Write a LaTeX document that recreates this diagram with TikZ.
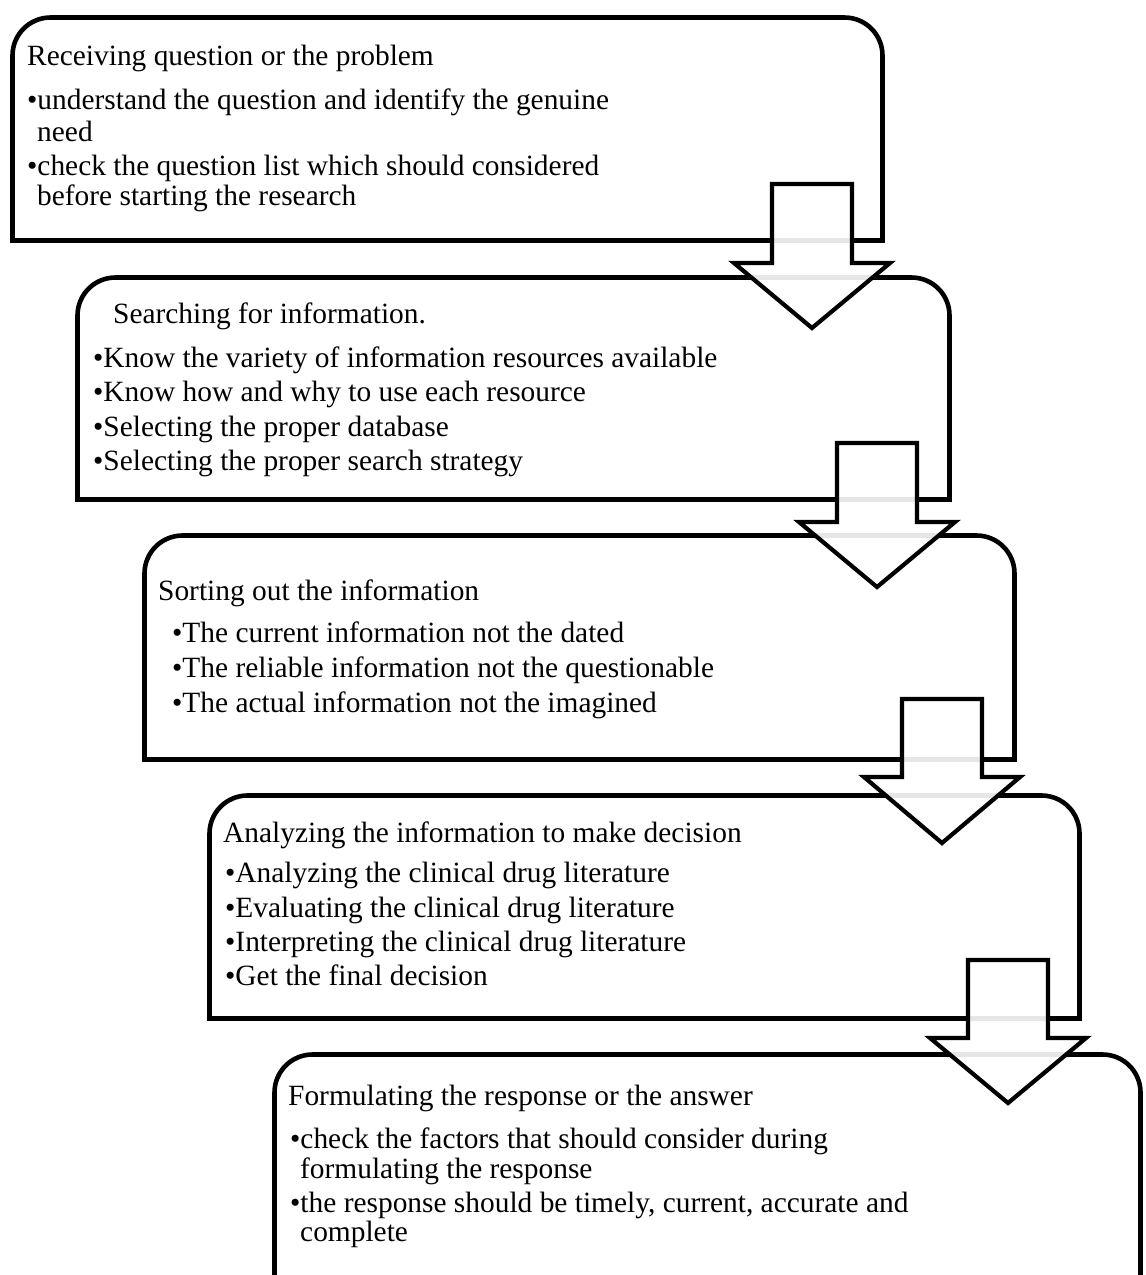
\documentclass[tikz,border=0pt]{standalone}
\usepackage{fontspec}
\setmainfont{Liberation Serif}
\begin{document}
\begin{tikzpicture}[x=1pt,y=1pt,
  boxline/.style={line width=4.6pt, black, line join=miter},
  blockarrow/.style={line width=4.2pt, black, fill=white, fill opacity=0.9, line join=miter},
  txt/.style={anchor=base west, inner sep=0pt, font=\fontsize{29.4}{34}\selectfont}]
\useasboundingbox (0,0) rectangle (1146,-1275);
% boxes with rounded top corners
\newcommand{\topround}[4]{%
  \draw[boxline] (#1,-#4) -- (#1,-#2-38) arc[start angle=180,end angle=90,radius=38pt]
    -- (#3-38,-#2) arc[start angle=90,end angle=0,radius=38pt] -- (#3,-#4) -- cycle;}
\topround{12.5}{17.5}{882.5}{240.5}
\topround{77.5}{277.5}{949.5}{499.5}
\topround{144.5}{535.5}{1014.5}{759.5}
\topround{209.5}{795.5}{1079.5}{1018.5}
\draw[boxline] (274.5,-1280) -- (274.5,-1054.5-38) arc[start angle=180,end angle=90,radius=38pt]
    -- (1140.5-38,-1054.5) arc[start angle=90,end angle=0,radius=38pt] -- (1140.5,-1280);
% text box 1
\node[txt] (t1) at (27,-65) {Receiving question or the problem};
\node[txt] (t1a) at (27,-109) {\textbullet understand the question and identify the genuine};
\node[txt] (t1b) at (37,-141) {need};
\node[txt] (t1c) at (27,-175) {\textbullet check the question list which should considered};
\node[txt] (t1d) at (37,-205) {before starting the research};
% text box 2
\node[txt] (t2) at (113,-323) {Searching for information.};
\node[txt] (t2a) at (93,-367) {\textbullet Know the variety of information resources available};
\node[txt] (t2b) at (93,-401) {\textbullet Know how and why to use each resource};
\node[txt] (t2c) at (93,-436) {\textbullet Selecting the proper database};
\node[txt] (t2d) at (93,-470) {\textbullet Selecting the proper search strategy};
% text box 3
\node[txt] (t3) at (158,-600) {Sorting out the information};
\node[txt] (t3a) at (172,-642) {\textbullet The current information not the dated};
\node[txt] (t3b) at (172,-677) {\textbullet The reliable information not the questionable};
\node[txt] (t3c) at (172,-712) {\textbullet The actual information not the imagined};
% text box 4
\node[txt] (t4) at (223,-842) {Analyzing the information to make decision};
\node[txt] (t4a) at (225,-882) {\textbullet Analyzing the clinical drug literature};
\node[txt] (t4b) at (225,-917) {\textbullet Evaluating the clinical drug literature};
\node[txt] (t4c) at (225,-951) {\textbullet Interpreting the clinical drug literature};
\node[txt] (t4d) at (225,-985) {\textbullet Get the final decision};
% text box 5
\node[txt] (t5) at (288,-1105) {Formulating the response or the answer};
\node[txt] (t5a) at (290,-1148) {\textbullet check the factors that should consider during};
\node[txt] (t5b) at (300,-1178) {formulating the response};
\node[txt] (t5c) at (290,-1212) {\textbullet the response should be timely, current, accurate and};
\node[txt] (t5d) at (300,-1241) {complete};
% block arrows
\newcommand{\blockarr}[4]{% cx, top, base, tip
  \draw[blockarrow] (#1-40,-#2) -- (#1+40,-#2) -- (#1+40,-#3) -- (#1+78,-#3) -- (#1,-#4)
    -- (#1-78,-#3) -- (#1-40,-#3) -- cycle;}
\blockarr{812}{184}{263}{328}
\blockarr{877}{443}{522}{587}
\blockarr{942}{699}{777}{843}
\blockarr{1008}{960}{1038}{1103}
\end{tikzpicture}
\end{document}
